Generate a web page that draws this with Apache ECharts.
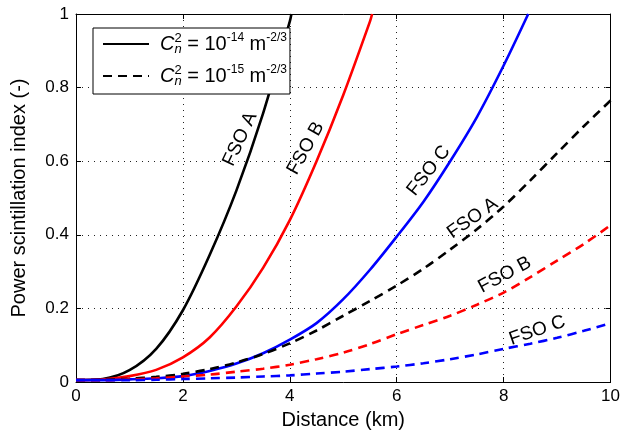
<!DOCTYPE html>
<html>
<head>
<meta charset="utf-8">
<script src="https://cdn.jsdelivr.net/npm/echarts@6/dist/echarts.min.js"></script>
<style>
html,body{margin:0;padding:0;background:#fff;}
#chart{width:623px;height:435px;}
</style>
</head>
<body>
<div id="chart"></div>
<script>
// ---- data ----
const xTicks = [0, 2, 4, 6, 8, 10];
const yTicks = [0, 0.2, 0.4, 0.6, 0.8, 1];

// Cn^2 = 1e-14 (solid)
const xA14 = [0, 0.5, 1, 1.5, 2, 2.5, 3, 3.5, 4, 4.03];
const yA14 = [0.005, 0.008, 0.032, 0.09, 0.195, 0.345, 0.52, 0.73, 0.98, 1.0];
const xB14 = [0, 0.5, 1, 1.5, 2, 2.5, 3, 3.5, 4, 4.5, 5, 5.5, 5.54];
const yB14 = [0.005, 0.007, 0.016, 0.033, 0.067, 0.121, 0.205, 0.31, 0.44, 0.6, 0.78, 0.98, 1.0];
const xC14 = [0, 0.5, 1, 1.5, 2, 2.5, 3, 3.5, 4, 4.5, 5, 5.5, 6, 6.5, 7, 7.5, 8, 8.46];
const yC14 = [0.005, 0.005, 0.007, 0.01, 0.016, 0.03, 0.05, 0.078, 0.115, 0.16, 0.225, 0.305, 0.395, 0.49, 0.6, 0.72, 0.86, 1.0];

// Cn^2 = 1e-15 (dashed)
const x15 = [0, 0.5, 1, 1.5, 2, 2.5, 3, 3.5, 4, 4.5, 5, 5.5, 6, 6.5, 7, 7.5, 8, 8.5, 9, 9.5, 10];
const yA15 = [0.005, 0.006, 0.009, 0.014, 0.022, 0.035, 0.053, 0.076, 0.105, 0.14, 0.18, 0.22, 0.262, 0.308, 0.36, 0.415, 0.477, 0.548, 0.622, 0.695, 0.765];
const yB15 = [0.005, 0.005, 0.007, 0.01, 0.015, 0.02, 0.028, 0.036, 0.047, 0.062, 0.08, 0.103, 0.13, 0.155, 0.18, 0.21, 0.243, 0.285, 0.33, 0.375, 0.426];
const yC15 = [0.005, 0.005, 0.005, 0.006, 0.008, 0.01, 0.012, 0.015, 0.018, 0.023, 0.028, 0.035, 0.042, 0.051, 0.062, 0.075, 0.09, 0.104, 0.12, 0.139, 0.16];

// curve annotations
const annX = [3.07, 4.3, 6.6, 7.42, 8.02, 8.63];
const annY = [0.66, 0.635, 0.574, 0.445, 0.291, 0.14];
const annText = ['FSO A', 'FSO B', 'FSO C', 'FSO A', 'FSO B', 'FSO C'];
const annAngle = [65, 61, 52, 35, 28, 19];

// ---- build ----
const FONT = '"Liberation Sans", Arial, Helvetica, sans-serif';
const zip = (xs, ys) => xs.map((x, i) => [x, ys[i]]);

function curve(name, xs, ys, color, dashed) {
  return {
    type: 'line', name: name, data: zip(xs, ys), showSymbol: false, symbol: 'none',
    smooth: 0.3,
    xAxisIndex: 0, yAxisIndex: 0, clip: true, silent: true,
    lineStyle: { color: color, width: 2.6, type: dashed ? [9, 6] : 'solid' },
    itemStyle: { color: color }, z: 3
  };
}

const chart = echarts.init(document.getElementById('chart'), null, { renderer: 'canvas' });

const rich = {
  c: { fontFamily: FONT, fontStyle: 'italic', fontSize: 20, lineHeight: 24, color: '#000' },
  n: { fontFamily: FONT, fontStyle: 'italic', fontSize: 13, lineHeight: 12, width: 0, verticalAlign: 'bottom', color: '#000' },
  s: { fontFamily: FONT, fontSize: 13, lineHeight: 12, verticalAlign: 'top', color: '#000' },
  t: { fontFamily: FONT, fontSize: 20, lineHeight: 24, color: '#000' },
  e: { fontFamily: FONT, fontSize: 12, lineHeight: 11, verticalAlign: 'top', color: '#000' }
};

const axisCommon = {
  type: 'value', min: 0,
  axisLine: { show: true, onZero: false, lineStyle: { color: '#000', width: 1 } },
  axisTick: { show: true, inside: true, length: 5, lineStyle: { color: '#000', width: 1 } },
};

const option = {
  backgroundColor: '#fff',
  animation: false,
  grid: { left: 76, top: 14, right: 7, bottom: 50, containLabel: false },
  xAxis: [
    Object.assign({}, axisCommon, {
      max: 10, interval: 2, position: 'bottom',
      name: 'Distance (km)', nameLocation: 'middle', nameGap: 28,
      nameTextStyle: { fontFamily: FONT, fontSize: 20, color: '#000' },
      axisLabel: { fontFamily: FONT, fontSize: 17, color: '#000', margin: 6,
        formatter: v => (xTicks.indexOf(v) >= 0 ? String(v) : '') },
      splitLine: { show: true, lineStyle: { color: '#222', width: 1, type: [1, 5] } }
    }),
    Object.assign({}, axisCommon, {
      max: 10, interval: 2, position: 'top',
      axisLabel: { show: false }, splitLine: { show: false }
    })
  ],
  yAxis: [
    Object.assign({}, axisCommon, {
      max: 1, interval: 0.2, position: 'left',
      name: 'Power scintillation index (-)', nameLocation: 'middle', nameGap: 47,
      nameTextStyle: { fontFamily: FONT, fontSize: 20, color: '#000' },
      axisLabel: { fontFamily: FONT, fontSize: 17, color: '#000', margin: 7,
        formatter: v => { const t = yTicks.find(k => Math.abs(k - v) < 1e-9); return t === undefined ? '' : String(t); } },
      splitLine: { show: true, lineStyle: { color: '#222', width: 1, type: [1, 5] } }
    }),
    Object.assign({}, axisCommon, {
      max: 1, interval: 0.2, position: 'right',
      axisLabel: { show: false }, splitLine: { show: false }
    })
  ],
  legend: {
    data: ['l14', 'l15'],
    orient: 'vertical', left: 93, top: 28,
    backgroundColor: '#fff', borderColor: '#000', borderWidth: 1,
    padding: [4, 3, 6, 9], itemGap: 8, itemWidth: 46, itemHeight: 14,
    selectedMode: false,
    itemStyle: { opacity: 0 },
    textStyle: { rich: rich, padding: [0, 0, 0, 6] },
    formatter: name => name === 'l14'
      ? '{c|C}{n|n}{s|2}{t| = 10}{e|-14}{t| m}{e|-2/3}'
      : '{c|C}{n|n}{s|2}{t| = 10}{e|-15}{t| m}{e|-2/3}'
  },
  series: [
    curve('A14', xA14, yA14, '#000000', false),
    curve('B14', xB14, yB14, '#ff0000', false),
    curve('C14', xC14, yC14, '#0000ff', false),
    curve('A15', x15, yA15, '#000000', true),
    curve('B15', x15, yB15, '#ff0000', true),
    curve('C15', x15, yC15, '#0000ff', true),
    { type: 'line', name: 'l14', data: [], showSymbol: false, symbol: 'none',
      lineStyle: { color: '#000', width: 2.6, type: 'solid' }, itemStyle: { color: '#000' } },
    { type: 'line', name: 'l15', data: [], showSymbol: false, symbol: 'none',
      lineStyle: { color: '#000', width: 2.6, type: [9, 6] }, itemStyle: { color: '#000' } },
    {
      type: 'scatter', name: 'labels', symbolSize: 0, silent: true, z: 4,
      itemStyle: { opacity: 1, color: '#000' },
      data: annX.map((x, i) => ({
        value: [x, annY[i]],
        label: { show: true, position: 'inside', formatter: annText[i], rotate: annAngle[i],
          color: '#000', opacity: 1, fontFamily: FONT, fontSize: 19 }
      }))
    }
  ]
};
chart.setOption(option);
</script>
</body>
</html>
